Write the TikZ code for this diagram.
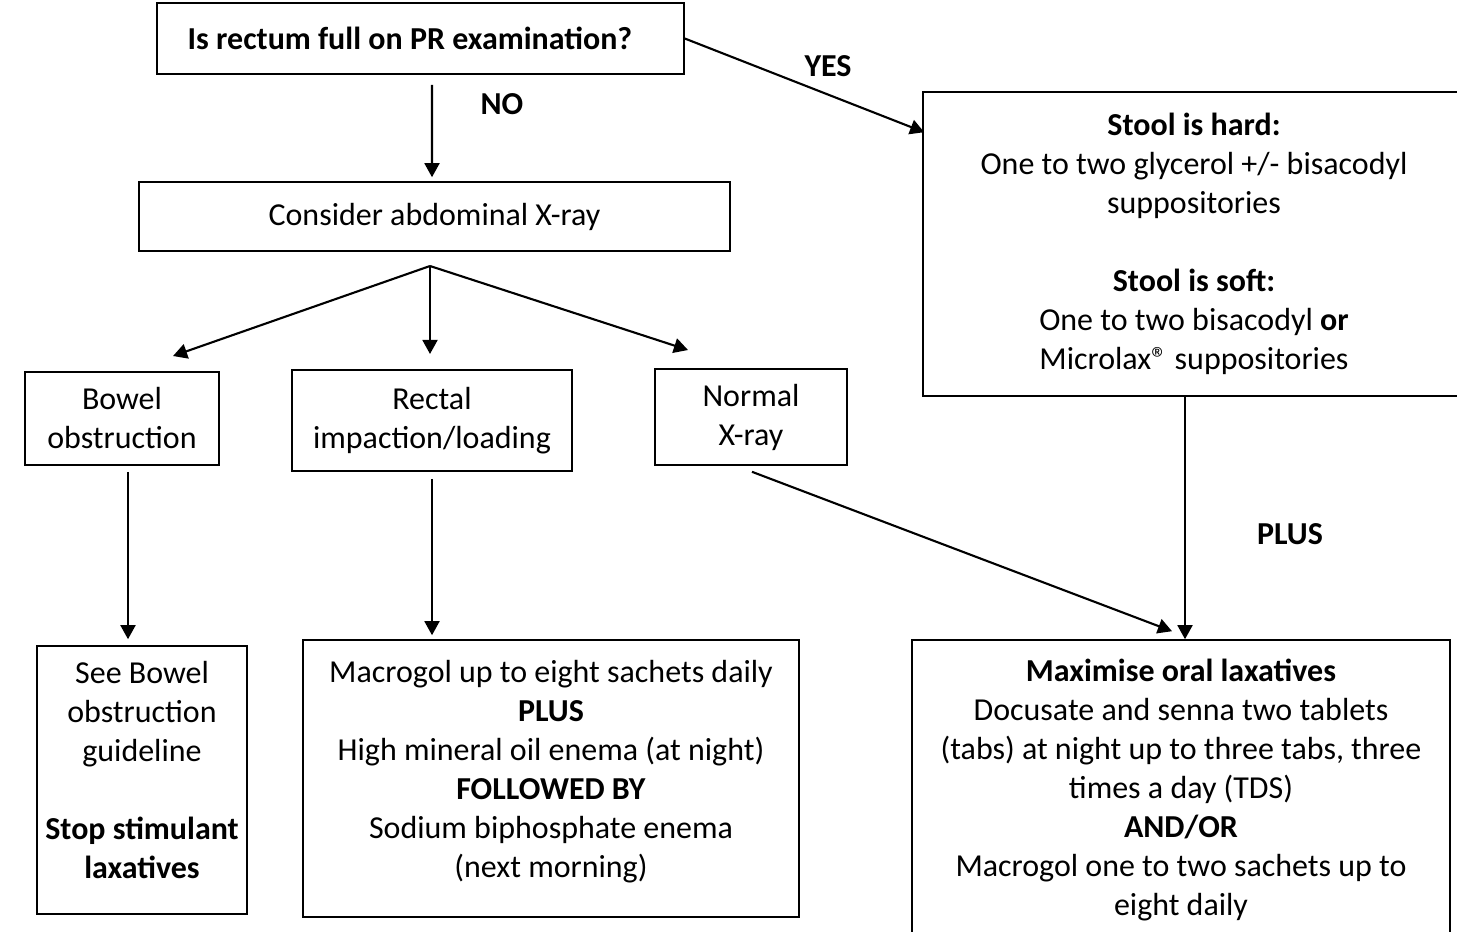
\documentclass[tikz,border=0pt]{standalone}
\usepackage{fontspec}
\setmainfont{Carlito}
\usetikzlibrary{arrows.meta,calc}

\begin{document}
\begin{tikzpicture}
[
	               x = 0.02cm,
	               y = -0.02cm,
	              >= {Triangle[length=8pt,width=8.5pt]},
	every node/.style = { font=\fontsize{18.2}{22.2}\selectfont },
	     box/.style = { draw=black, line width=0.9pt, align=center, inner sep=0pt },
	 boxsize/.style 2 args = { minimum width=#1*0.02cm, minimum height=#2*0.02cm },
	    link/.style = { ->, line width=1.2pt },
	  answer/.style = { draw=none, fill=none, font=\fontsize{18.2}{22.2}\selectfont\bfseries }
]
	\useasboundingbox (0,0) rectangle (1457,931);

	% question and first step
	\node (rectum) at (420.5,38.5) [box, boxsize={527}{71}] {\bfseries Is rectum full on PR examination?\hspace{12pt}};
	\node (xray)   at (434.5,216.5) [box, boxsize={591}{69}] {Consider abdominal X-ray};
	\node (stool)  at (1194,244)   [box, boxsize={542}{304}]
		{\textbf{Stool is hard:}\\ One to two glycerol +/- bisacodyl\\ suppositories\\[22.2pt]
		 \textbf{Stool is soft:}\\ One to two bisacodyl \textbf{or}\\ Microlax® suppositories};

	% x-ray findings
	\node (bowel)  at (122,418.5) [box, boxsize={194}{93}]  {Bowel\\ obstruction};
	\node (rectal) at (432,420.5) [box, boxsize={280}{101}] {Rectal\\ impaction/loading};
	\node (normal) at (751,417)   [box, boxsize={192}{96}]  {Normal\\ X-ray};

	% treatment
	\node (guide)  at (142,780)   [box, boxsize={210}{268}, text depth=11pt]
		{See Bowel\\ obstruction\\ guideline\\[22.2pt] \textbf{Stop stimulant}\\ \textbf{laxatives}};
	\node (enema)  at (551,778.5) [box, boxsize={496}{277}, text depth=11pt]
		{Macrogol up to eight sachets daily\\ \textbf{PLUS}\\ High mineral oil enema (at night)\\
		 \textbf{FOLLOWED BY}\\ Sodium biphosphate enema\\ (next morning)};
	\node (oral)   at (1181,790)  [box, boxsize={538}{300}]
		{\textbf{Maximise oral laxatives}\\ Docusate and senna two tablets\\ (tabs) at night up to three tabs, three\\
		 times a day (TDS)\\ \textbf{AND/OR}\\ Macrogol one to two sachets up to\\ eight daily};

	% answers
	\node (yes)  at (828,66)   [answer] {YES};
	\node (no)   at (502,104)  [answer] {NO};
	\node (plus) at (1290,534) [answer] {PLUS};

	% free ends
	\coordinate (fork)   at (430,266);
	\coordinate (toBowel)  at (173,356);
	\coordinate (toRectal) at (430,354);
	\coordinate (toNormal) at (688,350);

	\draw [link] (rectum.east) -- ($(stool.north west)+(2,41)$);
	\draw [link] ($(rectum.south)+(11.5,10)$) -- ($(xray.north)+(-2.5,-4)$);
	\draw [link] (fork) -- (toBowel);
	\draw [link] (fork) -- (toRectal);
	\draw [link] (fork) -- (toNormal);
	\draw [link] ($(bowel.south)+(6,6)$) -- ($(guide.north)+(-14,-6)$);
	\draw [link] ($(rectal.south)+(0,7)$) -- ($(enema.north)+(-119,-4)$);
	\draw [link] ($(normal.south)+(1,6)$) -- ($(oral.north)+(-9,-8)$);
	\draw [link] (stool.south -| oral.north) ++(4,0) -- ($(oral.north)+(4,0)$);

\end{tikzpicture}
\end{document}
